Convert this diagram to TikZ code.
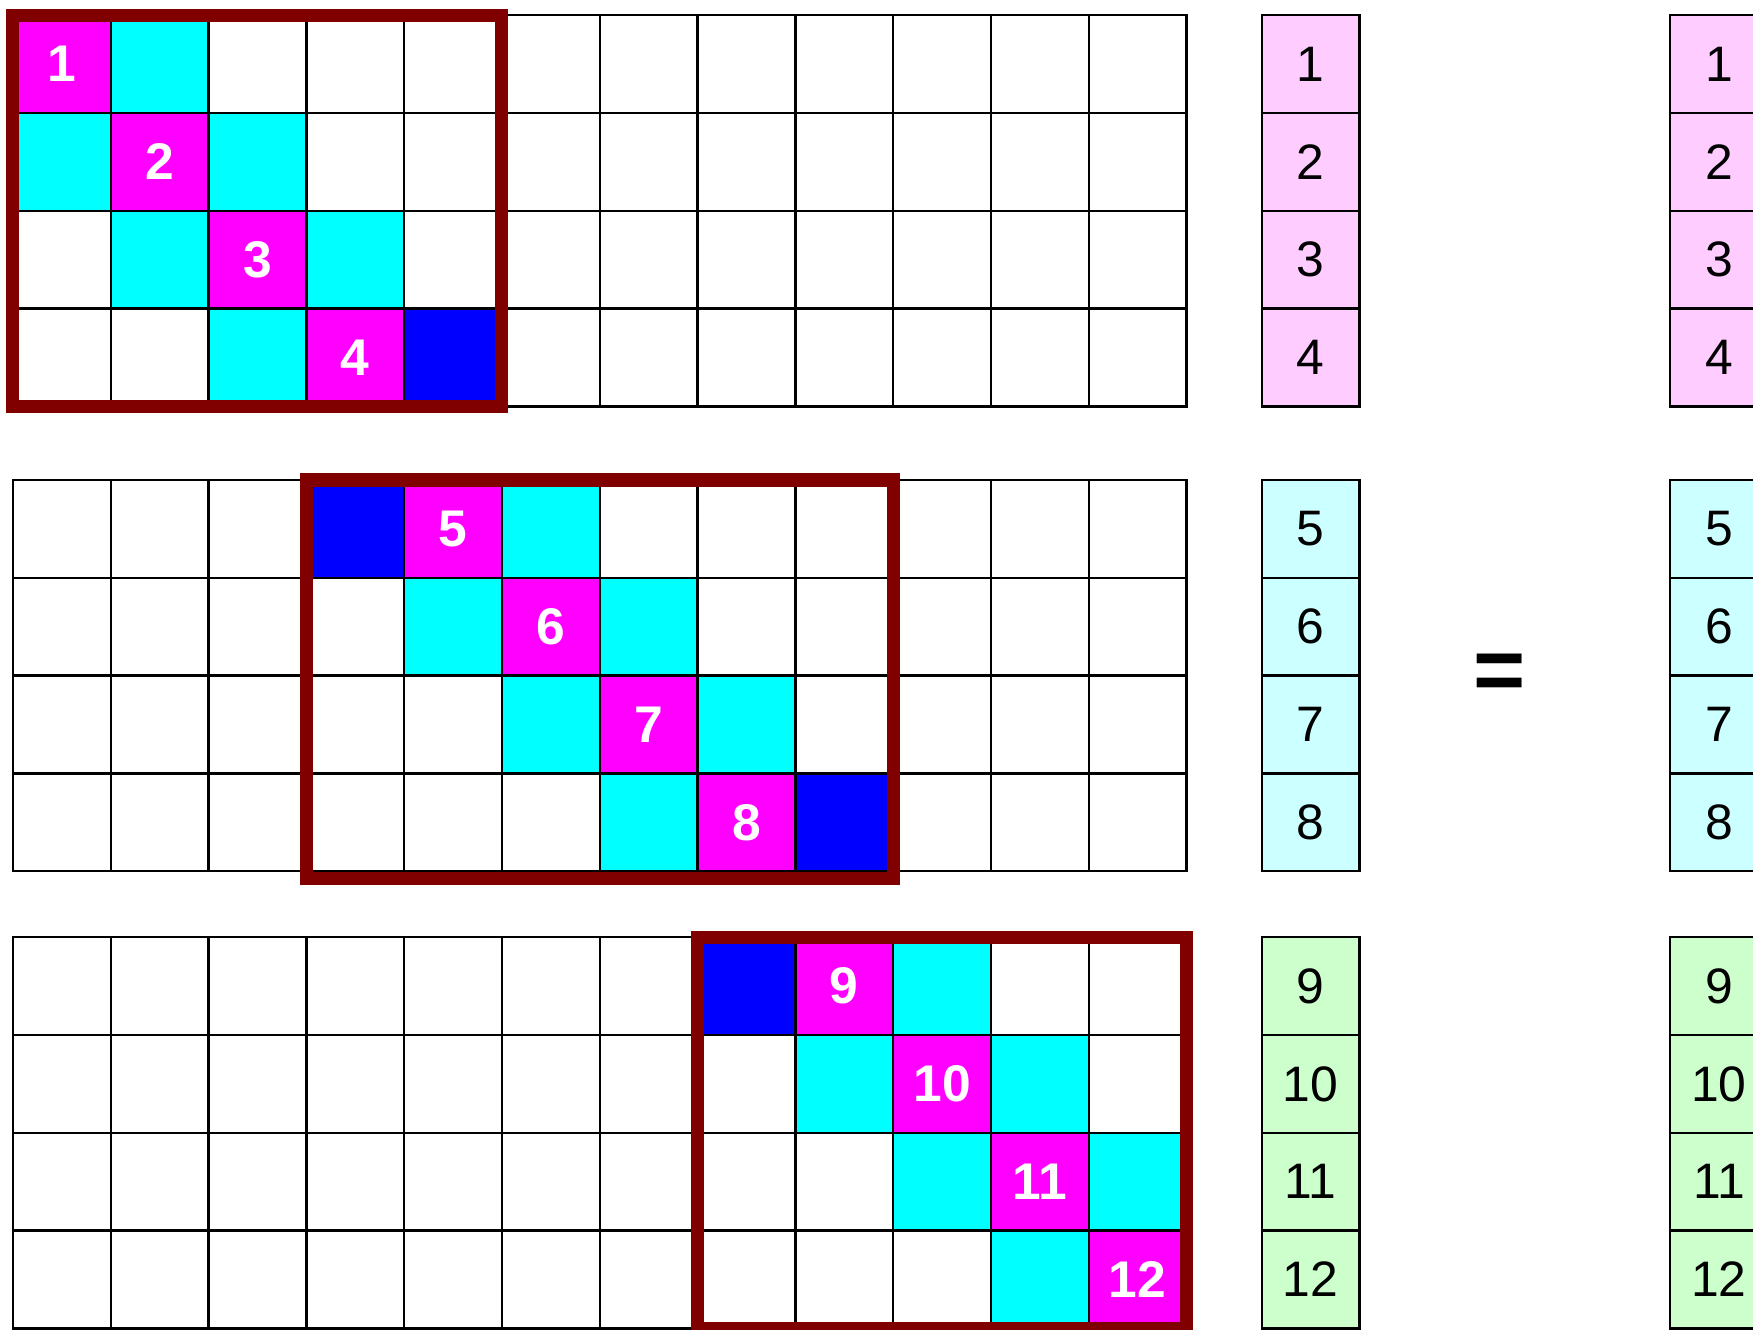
\documentclass[tikz,border=0pt]{standalone}
\usepackage{fontspec}
\setmainfont{Liberation Sans}
\usepackage{xcolor}
\usepackage{tikz}

\definecolor{frameRed}{HTML}{800000}
\definecolor{cellMag}{HTML}{FF00FF}
\definecolor{cellCyan}{HTML}{00FFFF}
\definecolor{cellBlue}{HTML}{0000FF}
\definecolor{vecPink}{HTML}{FFCCFF}
\definecolor{vecCyan}{HTML}{CCFFFF}
\definecolor{vecGreen}{HTML}{CCFFCC}

\begin{document}
\begin{tikzpicture}[
    cell/.style={
        rectangle,
        draw=black,
        line width=0.7pt,
        minimum size=1cm,
        inner sep=0pt,
        outer sep=0pt,
        anchor=north west
    },
    blank/.style={fill=white},
    diag/.style={fill=cellMag, text=white, font=\fontsize{15}{18}\selectfont\bfseries},
    nbr/.style={fill=cellCyan},
    halo/.style={fill=cellBlue},
    vec/.style={cell, font=\fontsize{14.5}{17}\selectfont},
    frame/.style={draw=frameRed, line width=3.8pt}
]

\def\xv{12.769}
\def\xw{16.944}

\clip (-0.132, 0.155) rectangle (17.792, -13.434);

% Matrix rows, vectors
\foreach \blk/\yt/\vc in {0/0/vecPink, 1/-4.753/vecCyan, 2/-9.428/vecGreen} {
    \foreach \rw in {0,...,3} {
        \pgfmathtruncatemacro{\gi}{4*\blk+\rw}
        \pgfmathtruncatemacro{\num}{\gi+1}
        \foreach \cl in {0,...,11} {
            \pgfmathtruncatemacro{\kind}{(\cl==\gi) ? 1 : ((abs(\cl-\gi)==1) ? ((int(\cl/4)==\blk) ? 2 : 3) : 0)}
            \ifcase\kind \def\sty{blank}\or \def\sty{diag}\or \def\sty{nbr}\or \def\sty{halo}\fi
            \node[cell, \sty] (m-\gi-\cl) at (\cl, \yt-\rw) {\ifnum\kind=1 \num\fi};
        }
        \node[vec, fill=\vc] (x-\gi) at (\xv, \yt-\rw) {\num};
        \node[vec, fill=\vc] (b-\gi) at (\xw, \yt-\rw) {\num};
    }
}

% Local blocks
\draw[frame] (m-0-0.north west) rectangle (m-3-4.south east);
\draw[frame] (m-4-3.north west) rectangle ([yshift=-0.07cm]m-7-8.south east);
\draw[frame] (m-8-7.north west) rectangle (m-11-11.south east);

\node[font=\fontsize{26}{30}\selectfont\bfseries] (eq) at (15.2, -6.774) {=};

\end{tikzpicture}
\end{document}
